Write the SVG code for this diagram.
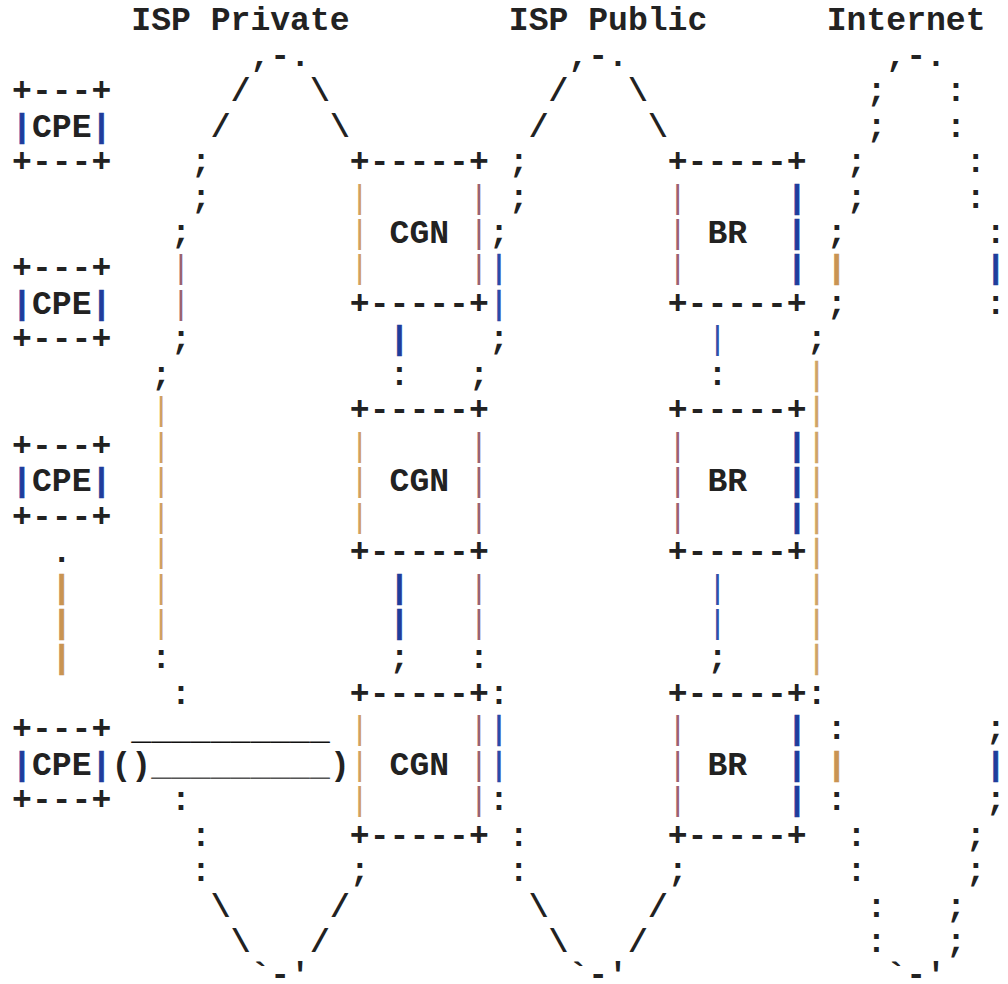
<svg xmlns="http://www.w3.org/2000/svg" width="1008" height="984" viewBox="0 0 1008 984">
<style>
text{font-family:"Liberation Mono","Courier New",monospace;font-size:33.1px;font-weight:bold;fill:#222;white-space:pre}
.bb{fill:#1f3d9c;stroke:#1f3d9c;stroke-width:0.6px}
.bm{fill:#2a4aa8;font-weight:normal;stroke:#2a4aa8;stroke-width:0.6px}
.bt{fill:#c99452;stroke:#c99452;stroke-width:0.6px}
.tp{fill:#9b6270;font-weight:normal}
.tt{fill:#cfa062;font-weight:normal}
.tb{fill:#3050a8;font-weight:normal}
.ty{fill:#cfa465;font-weight:normal;stroke:#cfa465;stroke-width:0.4px}
.ul{fill:#111}
.ul2{fill:#555;font-weight:normal}
.dash{fill:#444}
</style>
<rect width="1008" height="984" fill="#ffffff"/>
<g id="titles">
<text x="131.29" y="30.3">ISP Private</text>
<text x="508.82" y="30.3">ISP Public</text>
<text x="826.74" y="30.3">Internet</text>
</g>
<g id="cloud-isp-private">
<text x="250.51" y="65.75">,-.</text>
<text x="230.64" y="101.2">/</text><text x="310.12" y="101.2">\</text>
<text x="210.77" y="136.65">/</text><text x="329.99" y="136.65">\</text>
<text x="190.9" y="172.1">;</text>
<text x="190.9" y="207.55">;</text>
<text x="171.03" y="243">;</text>
<text class="tp" x="171.03" y="278.45">|</text>
<text class="tp" x="171.03" y="313.9">|</text>
<text x="171.03" y="349.35">;</text>
<text x="151.16" y="384.8">;</text>
<text class="tt" x="151.16" y="420.25">|</text>
<text class="tt" x="151.16" y="455.7">|</text>
<text class="tt" x="151.16" y="491.15">|</text>
<text class="tt" x="151.16" y="526.6">|</text>
<text class="tt" x="151.16" y="562.05">|</text>
<text class="tt" x="151.16" y="597.5">|</text>
<text class="tt" x="151.16" y="632.95">|</text>
<text x="151.16" y="668.4">:</text>
<text x="171.03" y="703.85">:</text>
<text x="171.03" y="810.2">:</text>
<text x="190.9" y="845.65">:</text>
<text x="190.9" y="881.1">:</text><text x="349.86" y="881.1">;</text>
<text x="210.77" y="916.55">\</text><text x="329.99" y="916.55">/</text>
<text x="230.64" y="952">\</text><text x="310.12" y="952">/</text>
<text x="250.51" y="985">`-'</text>
</g>
<g id="cloud-isp-public">
<text x="568.43" y="65.75">,-.</text>
<text x="548.56" y="101.2">/</text><text x="628.04" y="101.2">\</text>
<text x="528.69" y="136.65">/</text><text x="647.91" y="136.65">\</text>
<text x="508.82" y="172.1">;</text>
<text x="508.82" y="207.55">;</text>
<text x="488.95" y="243">;</text>
<text class="bm" x="488.95" y="278.45">|</text>
<text class="bm" x="488.95" y="313.9">|</text>
<text x="488.95" y="349.35">;</text>
<text x="469.08" y="384.8">;</text>
<text class="tp" x="469.08" y="597.5">|</text>
<text class="tp" x="469.08" y="632.95">|</text>
<text x="469.08" y="668.4">:</text>
<text x="488.95" y="703.85">:</text>
<text class="bm" x="488.95" y="739.3">|</text>
<text class="bm" x="488.95" y="774.75">|</text>
<text x="488.95" y="810.2">:</text>
<text x="508.82" y="845.65">:</text>
<text x="508.82" y="881.1">:</text><text x="667.78" y="881.1">;</text>
<text x="528.69" y="916.55">\</text><text x="647.91" y="916.55">/</text>
<text x="548.56" y="952">\</text><text x="628.04" y="952">/</text>
<text x="568.43" y="985">`-'</text>
</g>
<g id="cloud-internet">
<text x="886.35" y="65.75">,-.</text>
<text x="866.48" y="101.2">;</text><text x="945.96" y="101.2">:</text>
<text x="866.48" y="136.65">;</text><text x="945.96" y="136.65">:</text>
<text x="846.61" y="172.1">;</text><text x="965.83" y="172.1">:</text>
<text x="846.61" y="207.55">;</text><text x="965.83" y="207.55">:</text>
<text x="826.74" y="243">;</text><text x="985.7" y="243">:</text>
<text class="bt" x="826.74" y="278.45">|</text><text class="bb" x="985.7" y="278.45">|</text>
<text x="826.74" y="313.9">;</text><text x="985.7" y="313.9">:</text>
<text x="806.87" y="349.35">;</text>
<text class="ty" x="806.87" y="384.8">|</text>
<text class="ty" x="806.87" y="420.25">|</text>
<text class="ty" x="806.87" y="455.7">|</text>
<text class="ty" x="806.87" y="491.15">|</text>
<text class="ty" x="806.87" y="526.6">|</text>
<text class="ty" x="806.87" y="562.05">|</text>
<text class="ty" x="806.87" y="597.5">|</text>
<text class="ty" x="806.87" y="632.95">|</text>
<text class="ty" x="806.87" y="668.4">|</text>
<text x="806.87" y="703.85">:</text>
<text x="826.74" y="739.3">:</text><text x="985.7" y="739.3">;</text>
<text class="bt" x="826.74" y="774.75">|</text><text class="bb" x="985.7" y="774.75">|</text>
<text x="826.74" y="810.2">:</text><text x="985.7" y="810.2">;</text>
<text x="846.61" y="845.65">:</text><text x="965.83" y="845.65">;</text>
<text x="846.61" y="881.1">:</text><text x="965.83" y="881.1">;</text>
<text x="866.48" y="916.55">:</text><text x="945.96" y="916.55">;</text>
<text x="866.48" y="952">:</text><text x="945.96" y="952">;</text>
<text x="886.35" y="985">`-'</text>
</g>
<g id="cpe1">
<text x="12.07" y="101.2">+---+</text>
<text class="bb" x="12.07" y="136.65">|</text><text x="31.94" y="136.65">CPE</text><text class="bb" x="91.55" y="136.65">|</text>
<text x="12.07" y="172.1">+---+</text>
</g>
<g id="cpe2">
<text x="12.07" y="278.45">+---+</text>
<text class="bb" x="12.07" y="313.9">|</text><text x="31.94" y="313.9">CPE</text><text class="bb" x="91.55" y="313.9">|</text>
<text x="12.07" y="349.35">+---+</text>
</g>
<g id="cpe3">
<text x="12.07" y="455.7">+---+</text>
<text class="bb" x="12.07" y="491.15">|</text><text x="31.94" y="491.15">CPE</text><text class="bb" x="91.55" y="491.15">|</text>
<text x="12.07" y="526.6">+---+</text>
</g>
<g id="cpe4">
<text x="12.07" y="739.3">+---+</text>
<text class="bb" x="12.07" y="774.75">|</text><text x="31.94" y="774.75">CPE</text><text class="bb" x="91.55" y="774.75">|</text>
<text x="12.07" y="810.2">+---+</text>
</g>
<g id="cgn1">
<text x="349.86" y="172.1">+-----+</text>
<text class="tt" x="349.86" y="207.55">|</text><text class="tp" x="469.08" y="207.55">|</text>
<text class="tt" x="349.86" y="243">|</text><text x="389.6" y="243">CGN</text><text class="tp" x="469.08" y="243">|</text>
<text class="tt" x="349.86" y="278.45">|</text><text class="tp" x="469.08" y="278.45">|</text>
<text x="349.86" y="313.9">+-----+</text>
</g>
<g id="cgn2">
<text x="349.86" y="420.25">+-----+</text>
<text class="tt" x="349.86" y="455.7">|</text><text class="tp" x="469.08" y="455.7">|</text>
<text class="tt" x="349.86" y="491.15">|</text><text x="389.6" y="491.15">CGN</text><text class="tp" x="469.08" y="491.15">|</text>
<text class="tt" x="349.86" y="526.6">|</text><text class="tp" x="469.08" y="526.6">|</text>
<text x="349.86" y="562.05">+-----+</text>
</g>
<g id="cgn3">
<text x="349.86" y="703.85">+-----+</text>
<text class="tt" x="349.86" y="739.3">|</text><text class="tp" x="469.08" y="739.3">|</text>
<text class="tt" x="349.86" y="774.75">|</text><text x="389.6" y="774.75">CGN</text><text class="tp" x="469.08" y="774.75">|</text>
<text class="tt" x="349.86" y="810.2">|</text><text class="tp" x="469.08" y="810.2">|</text>
<text x="349.86" y="845.65">+-----+</text>
</g>
<g id="br1">
<text x="667.78" y="172.1">+-----+</text>
<text class="tp" x="667.78" y="207.55">|</text><text class="bb" x="787" y="207.55">|</text>
<text class="tp" x="667.78" y="243">|</text><text x="707.52" y="243">BR</text><text class="bb" x="787" y="243">|</text>
<text class="tp" x="667.78" y="278.45">|</text><text class="bb" x="787" y="278.45">|</text>
<text x="667.78" y="313.9">+-----+</text>
</g>
<g id="br2">
<text x="667.78" y="420.25">+-----+</text>
<text class="tp" x="667.78" y="455.7">|</text><text class="bb" x="787" y="455.7">|</text>
<text class="tp" x="667.78" y="491.15">|</text><text x="707.52" y="491.15">BR</text><text class="bb" x="787" y="491.15">|</text>
<text class="tp" x="667.78" y="526.6">|</text><text class="bb" x="787" y="526.6">|</text>
<text x="667.78" y="562.05">+-----+</text>
</g>
<g id="br3">
<text x="667.78" y="703.85">+-----+</text>
<text class="tp" x="667.78" y="739.3">|</text><text class="bb" x="787" y="739.3">|</text>
<text class="tp" x="667.78" y="774.75">|</text><text x="707.52" y="774.75">BR</text><text class="bb" x="787" y="774.75">|</text>
<text class="tp" x="667.78" y="810.2">|</text><text class="bb" x="787" y="810.2">|</text>
<text x="667.78" y="845.65">+-----+</text>
</g>
<g id="connectors">
<text class="bb" x="389.6" y="349.35">|</text>
<text x="389.6" y="384.8">:</text>
<text class="bb" x="389.6" y="597.5">|</text>
<text class="bb" x="389.6" y="632.95">|</text>
<text x="389.6" y="668.4">;</text>
<text class="tb" x="707.52" y="349.35">|</text>
<text x="707.52" y="384.8">:</text>
<text class="tb" x="707.52" y="597.5">|</text>
<text class="tb" x="707.52" y="632.95">|</text>
<text x="707.52" y="668.4">;</text>
<text x="51.81" y="562.05">.</text>
<text class="bt" x="51.81" y="597.5">|</text>
<text class="bt" x="51.81" y="632.95">|</text>
<text class="bt" x="51.81" y="668.4">|</text>
<text class="ul" x="131.29" y="739.3">__________</text>
<text x="111.42" y="774.75">()</text><text class="ul2" x="151.16" y="774.75">_________</text><text x="329.99" y="774.75">)</text>
</g>
</svg>
